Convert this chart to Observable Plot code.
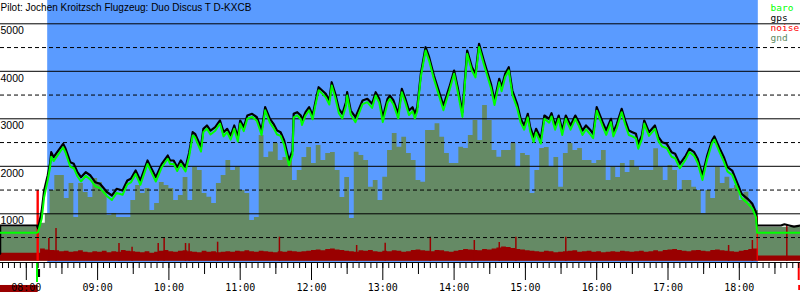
<!DOCTYPE html>
<html><head><meta charset="utf-8">
<script src="https://cdn.jsdelivr.net/npm/d3@7"></script>
<script src="https://cdn.jsdelivr.net/npm/@observablehq/plot@0.6"></script>
<style>
html,body{margin:0;padding:0;background:#fff;}
svg{display:block}
</style>
</head><body><div id="chart"></div>
<script>
const title = "Pilot: Jochen Kroitzsch Flugzeug: Duo Discus T D-KXCB";

// flight track (gps / baro altitude in m)
const times = [
"07:38","07:38","08:09","08:10","08:13","08:15","08:18","08:20","08:21","08:23",
"08:26","08:31","08:33","08:37","08:40","08:43","08:46","08:50","08:54","08:58",
"09:02","09:08","09:12","09:16","09:21","09:25","09:28","09:32","09:36","09:42",
"09:44","09:49","09:54","09:59","10:01","10:04","10:07","10:10","10:14","10:17",
"10:20","10:22","10:27","10:29","10:32","10:35","10:39","10:43","10:46","10:49",
"10:52","10:55","10:58","11:00","11:03","11:06","11:10","11:14","11:18","11:21",
"11:25","11:28","11:31","11:34","11:37","11:39","11:41","11:44","11:45","11:48",
"11:51","11:52","11:55","11:58","12:01","12:03","12:06","12:09","12:12","12:15",
"12:17","12:20","12:23","12:26","12:29","12:30","12:33","12:37","12:40","12:43",
"12:47","12:51","12:54","12:57","13:00","13:04","13:06","13:09","13:13","13:16",
"13:19","13:22","13:25","13:27","13:29","13:32","13:36","13:39","13:43","13:47",
"13:51","13:56","14:00","14:03","14:07","14:11","14:15","14:18","14:21","14:25",
"14:28","14:31","14:34","14:38","14:40","14:43","14:46","14:49","14:53","14:56",
"14:59","15:02","15:04","15:07","15:09","15:13","15:16","15:20","15:22","15:25",
"15:28","15:31","15:34","15:38","15:42","15:45","15:48","15:51","15:55","15:57",
"16:00","16:05","16:08","16:12","16:14","16:17","16:21","16:24","16:27","16:30",
"16:33","16:35","16:38","16:40","16:44","16:49","16:52","16:55","16:59","17:03",
"17:06","17:10","17:15","17:18","17:22","17:25","17:29","17:33","17:37","17:39",
"17:43","17:47","17:50","17:54","17:58","18:02","18:07","18:11","18:14","18:15",
"18:35","18:38","18:42","18:46","18:52"];
const gps = [
160,754,754,690,1069,1490,1806,2059,2297,2191,
2297,2473,2374,2086,2052,1876,1770,1876,1806,1665,
1631,1455,1385,1526,1490,1701,1737,1911,1701,2122,
2017,1770,2052,2227,2122,2122,1981,2122,1981,2280,
2718,2684,2402,2789,2859,2753,2823,2964,2718,2789,
2648,2859,2612,2964,2823,3069,3105,3033,2753,3244,
3000,2894,2753,2718,2543,2332,2122,2332,3105,3139,
3069,2964,3139,3244,3069,3315,3665,3595,3526,3385,
3770,3526,3210,3105,3349,3560,3174,3033,3210,3385,
3421,3315,3560,3421,3033,3421,3490,3385,3105,3631,
3421,3174,3244,3105,3244,3947,4507,4296,3911,3595,
3280,3665,4016,3665,3139,4437,4086,3947,4578,4227,
3981,3736,3385,3842,3665,3947,4086,3595,3315,3000,
2859,3105,2823,2612,2789,2579,3069,3000,3118,2859,
3069,2753,3069,2859,3069,2928,2753,2859,2753,2684,
3244,2928,2753,3000,2718,2894,3210,2964,2753,2718,
2684,2473,2648,2964,2718,2859,2612,2507,2473,2297,
2263,2052,2227,2368,2297,2158,1806,2227,2543,2627,
2402,2191,1981,1911,1665,1421,1316,1210,1034,754,
754,780,754,730,754];
const baro = [
600,600,600,620,900,1350,1700,1980,2200,2110,
2220,2400,2290,1990,1960,1790,1680,1800,1720,1580,
1540,1370,1290,1440,1400,1620,1660,1840,1610,2050,
1940,1680,1980,2160,2050,2050,1900,2050,1890,2200,
2650,2610,2310,2720,2790,2670,2750,2900,2630,2720,
2560,2790,2520,2900,2740,3000,3040,2960,2660,3180,
2920,2810,2670,2640,2450,2240,2020,2240,3030,3070,
2990,2870,3070,3180,2990,3250,3600,3530,3450,3300,
3700,3450,3120,3010,3270,3490,3090,2930,3120,3310,
3350,3230,3490,3340,2930,3340,3420,3300,3010,3560,
3340,3080,3160,3010,3160,3880,4440,4220,3840,3510,
3180,3590,3950,3580,3040,4370,4010,3870,4510,4150,
3900,3650,3290,3770,3580,3880,4020,3510,3230,2920,
2770,3030,2740,2510,2710,2480,3000,2920,3050,2770,
3000,2660,3000,2770,3000,2850,2660,2780,2660,2590,
3170,2840,2660,2930,2630,2810,3140,2880,2660,2630,
2590,2370,2570,2900,2640,2790,2530,2420,2380,2200,
2170,1960,2150,2300,2220,2070,1710,2150,2480,2560,
2320,2100,1890,1820,1570,1330,1220,1110,930,600,
600,600,600,600,600];

// terrain elevation and noise level along the track
const gndTimes = [
"07:38","08:10",
"08:12","08:16","08:20","08:24","08:28","08:32","08:36","08:40","08:44","08:48",
"08:52","08:56","09:00","09:04","09:08","09:12","09:16","09:20","09:24","09:28",
"09:32","09:36","09:40","09:44","09:48","09:52","09:56","10:00","10:04","10:08",
"10:12","10:16","10:20","10:24","10:28","10:32","10:36","10:40","10:44","10:48",
"10:52","10:56","11:00","11:04","11:08","11:12","11:16","11:20","11:24","11:28",
"11:32","11:36","11:40","11:44","11:48","11:52","11:56","12:00","12:04","12:08",
"12:12","12:16","12:20","12:24","12:28","12:32","12:36","12:40","12:44","12:48",
"12:52","12:56","13:00","13:04","13:08","13:12","13:16","13:20","13:24","13:28",
"13:32","13:36","13:40","13:44","13:48","13:52","13:56","14:00","14:04","14:08",
"14:12","14:16","14:20","14:24","14:28","14:32","14:36","14:40","14:44","14:48",
"14:52","14:56","15:00","15:04","15:08","15:12","15:16","15:20","15:24","15:28",
"15:32","15:36","15:40","15:44","15:48","15:52","15:56","16:00","16:04","16:08",
"16:12","16:16","16:20","16:24","16:28","16:32","16:36","16:40","16:44","16:48",
"16:52","16:56","17:00","17:04","17:08","17:12","17:16","17:20","17:24","17:28",
"17:32","17:36","17:40","17:44","17:48","17:52","17:56","18:00","18:04","18:08",
"18:12","18:16","18:52"];
const gnd = [
720,760,
800,1000,1490,1806,1806,1322,1638,922,1638,1448,
1343,1743,1659,1490,964,1006,922,922,922,1280,
1596,1427,1532,1069,1217,1659,1596,1532,1280,1385,
1764,1280,1981,1911,1427,1350,1217,1638,1806,2122,
1911,1981,1490,1427,859,922,2648,2185,2300,2480,
2122,2185,2185,1701,1911,2185,2397,2059,2438,2122,
2269,2290,1911,1343,1764,900,2297,2227,2122,1560,
1701,1280,1770,2332,2690,2402,2613,2269,2122,1701,
1665,2753,2753,2894,2613,2269,2059,2059,2402,2375,
2648,2964,2543,3280,2964,2332,2192,2332,2332,2480,
1981,2269,2227,1427,1911,2375,2397,1981,2185,1560,
2269,2480,2332,2375,2122,2122,2059,2122,2332,1701,
1981,1764,2059,1869,2122,1981,1911,1911,1911,2368,
1981,1701,2017,1911,1490,1701,1701,1560,1490,1006,
1490,1322,1981,1638,1770,1532,1596,1280,1455,1217,
1069,718,718];
const noise = [
170,170,
260,240,230,220,200,210,190,200,220,190,
180,200,190,210,180,200,190,230,210,200,
190,180,200,170,190,210,230,200,190,210,
220,200,190,180,210,190,200,180,190,200,
190,210,200,220,200,190,210,200,190,180,
200,190,210,200,190,200,210,230,240,220,
250,260,240,230,210,200,190,220,210,230,
200,190,210,200,220,210,190,200,230,240,
220,210,200,230,220,200,190,210,230,250,
240,230,220,250,240,260,280,300,290,270,
250,240,220,210,200,190,210,200,180,190,
200,210,220,190,200,210,190,200,180,190,
200,190,210,200,190,200,210,190,200,220,
200,230,240,250,230,210,200,220,230,210,
200,230,240,220,210,200,190,210,230,250,
260,110,110];
const spikeTimes = ["08:19","08:25","09:18","09:29","09:51","09:56","10:14","10:17","10:41","11:33","12:38","13:02","13:40","14:17","14:38","14:52","15:34","17:51","18:11","18:40"];
const spikeValues = [480,690,375,297,375,480,375,368,402,507,333,381,507,438,396,507,507,333,438,754];
const engineStart = ["08:09","18:15"];
const engineEnd = ["08:11","18:16"];
const engineNoise = [1490,943];

// window and event markers
const flightWindow = ["08:18","18:16"];
const loggerBar = ["07:38","08:10"];
const takeoffBox = ["08:10","08:12"];
const takeoffTime = "08:09";
const endTime = "18:50";
const endBox = ["18:50","18:52"];

// axes
const yGridSolid = [1000,2000,3000,4000,5000];
const yGridDashed = [500,1500,2500,3500,4500];
const yLabels = ["5000","4000","3000","2000","1000"];
const hourLabels = ["08:00","09:00","10:00","11:00","12:00","13:00","14:00","15:00","16:00","17:00","18:00"];
const legendNames = ["baro","gps","noise","gnd"];
const legendColors = ["#00ff00","#000000","#ff0000","#608a60"];

const T = s => +s.slice(0,2)*60 + +s.slice(3);
const flight = times.map((t,i)=>({t:T(t), gps:gps[i], baro:baro[i]}));
const ground = gndTimes.map((t,i)=>({t:T(t), gnd:gnd[i], noise:noise[i]}));
const spikes = spikeTimes.map((t,i)=>({t:T(t), v:spikeValues[i]}));
const engine = engineStart.map((t,i)=>({t1:T(t), t2:T(engineEnd[i]), v:engineNoise[i]}));

const minorTicks = d3.range(460, 1131, 5);
const halfTicks = d3.range(510, 1111, 60);
const hourTicks = hourLabels.map(T);
const sans = "Liberation Sans, Arial, sans-serif";
const mono = "DejaVu Sans Mono, monospace";

const legendMarks = legendNames.map((n,i)=>Plot.text([n], {
  frameAnchor:"top-left", text:d=>d, dx:770, dy:10 + i*10, lineAnchor:"bottom", textAnchor:"start",
  fill:legendColors[i], fontFamily:mono, fontSize:9.5
}));

const chart = Plot.plot({
  width:800, height:300,
  marginTop:0, marginRight:0, marginLeft:0, marginBottom:38,
  x:{domain:[480,1080], range:[25.8,738.8]},
  y:{domain:[0,5000], range:[260.8,23.3], axis:null},
  style:{background:"#fff", overflow:"visible"},
  marks:[
    Plot.rect([flightWindow], {x1:d=>T(d[0]), x2:d=>T(d[1]), fill:"#5a9bff"}),
    Plot.areaY(ground, {x:"t", y:"gnd", curve:"step-after", fill:"#658a65"}),
    Plot.areaY(ground, {x:"t", y:"noise", curve:"step-after", fill:"#990000"}),
    Plot.ruleX(spikes, {x:"t", y1:0, y2:"v", stroke:"#990000", strokeWidth:1.5}),
    Plot.rectY(engine, {x1:"t1", x2:"t2", y:"v", fill:"#ff0000"}),
    Plot.ruleY(yGridSolid, {stroke:"#000", strokeWidth:1}),
    Plot.ruleY(yGridDashed, {stroke:"#000", strokeWidth:1, strokeDasharray:"4,3"}),
    Plot.line(flight, {x:"t", y:"gps", stroke:"#000", strokeWidth:2.2}),
    Plot.line(flight, {x:"t", y:"baro", stroke:"#00ff00", strokeWidth:2}),
    Plot.text(yLabels, {y:d=>+d, text:d=>d, frameAnchor:"left", textAnchor:"start", lineAnchor:"top", dy:3, fontFamily:sans, fontSize:10.5, fill:"#000"}),
    Plot.text([title], {frameAnchor:"top-left", text:d=>d, textAnchor:"start", lineAnchor:"top", dy:3, fontFamily:sans, fontSize:10, fill:"#000"}),
    ...legendMarks,
    Plot.rect([loggerBar], {x1:d=>T(d[0]), x2:d=>T(d[1]), y1:-509, y2:-657, fill:"#990000"}),
    Plot.rect([takeoffBox], {x1:d=>T(d[0]), x2:d=>T(d[1]), y1:-173, y2:-341, fill:"#000"}),
    Plot.ruleX([takeoffTime], {x:T, y1:-25, y2:-446, stroke:"#00ff00", strokeWidth:2}),
    Plot.ruleX([endTime], {x:T, y1:-25, y2:-404, stroke:"#ff0000", strokeWidth:2}),
    Plot.rect([endBox], {x1:d=>T(d[0]), x2:d=>T(d[1]), y1:-509, y2:-615, fill:"#ff0000"}),
    Plot.frame({anchor:"bottom", stroke:"#000"}),
    Plot.axisX({ticks:minorTicks, tickSize:6, tickFormat:()=>"", label:null, stroke:"#000"}),
    Plot.axisX({ticks:halfTicks, tickSize:12, tickFormat:()=>"", label:null, stroke:"#000"}),
    Plot.axisX({ticks:hourTicks, tickSize:18, tickFormat:()=>"", label:null, stroke:"#000"}),
    Plot.text(hourLabels, {x:T, text:d=>d, frameAnchor:"bottom", lineAnchor:"middle", dy:25, fontFamily:mono, fontSize:10, fill:"#000"})
  ]
});
document.getElementById("chart").appendChild(chart);
</script>
</body></html>
